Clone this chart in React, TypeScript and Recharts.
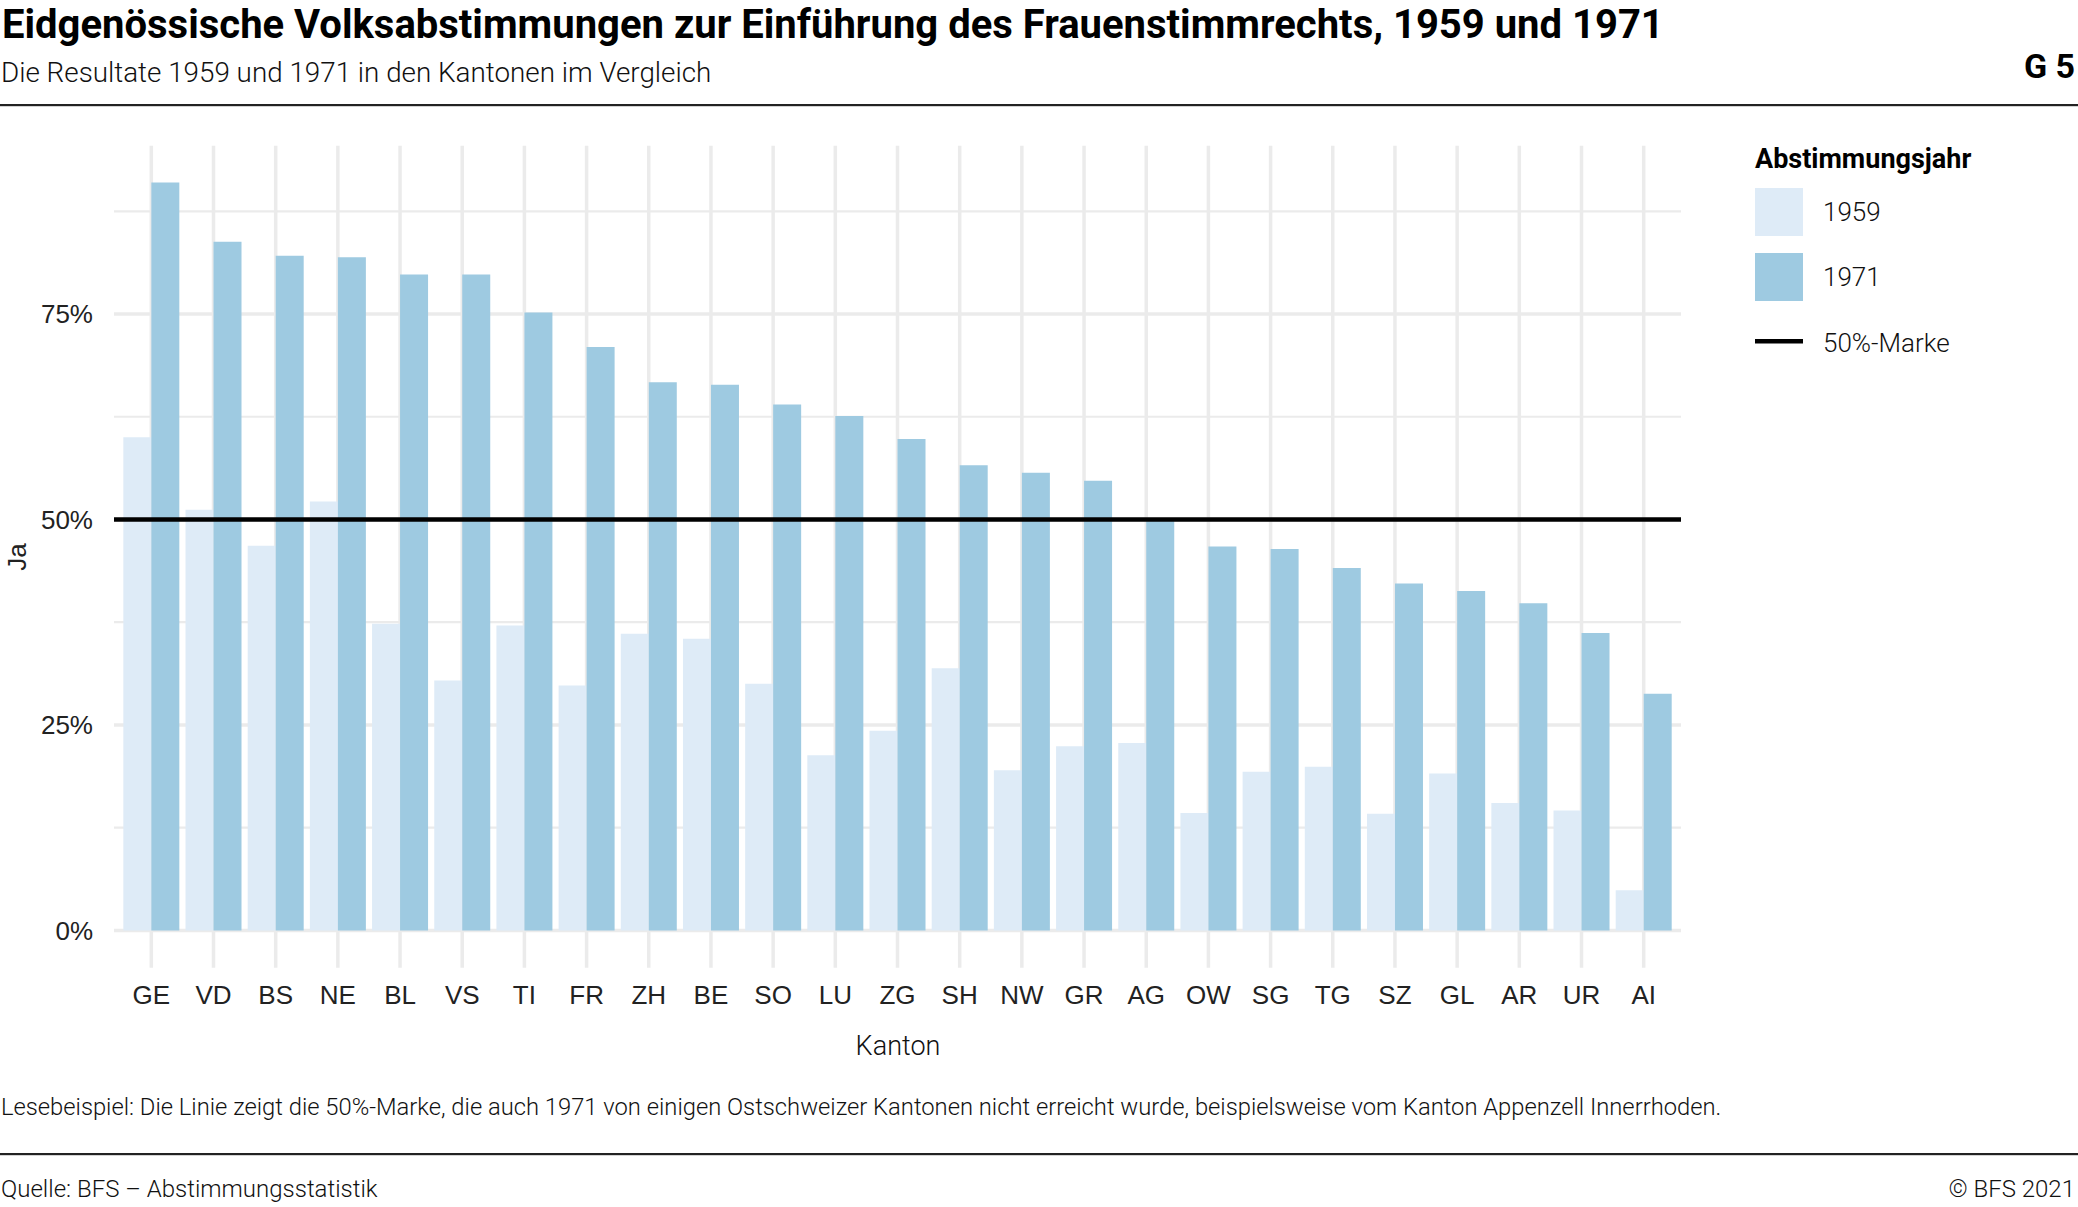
import React from "react";
import {
  BarChart,
  Bar,
  XAxis,
  YAxis,
  CartesianGrid,
  ReferenceLine,
} from "recharts";

const cantons = ["GE","VD","BS","NE","BL","VS","TI","FR","ZH","BE","SO","LU","ZG","SH","NW","GR","AG","OW","SG","TG","SZ","GL","AR","UR","AI"];
const yes1959 = [60.0,51.2,46.8,52.2,37.3,30.4,37.1,29.8,36.1,35.5,30.0,21.3,24.3,31.9,19.5,22.4,22.8,14.3,19.3,19.9,14.2,19.1,15.5,14.6,4.9];
const yes1971 = [91.0,83.8,82.1,81.9,79.8,79.8,75.2,71.0,66.7,66.4,64.0,62.6,59.8,56.6,55.7,54.7,50.1,46.7,46.4,44.1,42.2,41.3,39.8,36.2,28.8];
const majorTicks = [0, 25, 50, 75];
const minorTicks = [12.5, 37.5, 62.5, 87.5];
const threshold = 50;
const yDomain = [-4.55, 95.47];

const data = cantons.map((k, i) => ({ kanton: k, y1959: yes1959[i], y1971: yes1971[i] }));

const C1959 = "#DEEBF7";
const C1971 = "#9ECAE1";
const GRID = "#EBEBEB";
const TICKFONT = "'Liberation Sans', Arial, sans-serif";
const ROBOTO = "Roboto, 'Noto Sans', sans-serif";

export default function App() {
  return (
    <div style={{ position: "absolute", left: 0, top: 0, width: 2078, height: 1207, background: "#fff", overflow: "hidden" }}>
      <div style={{ position: "absolute", left: 0, top: 0 }}>
        <BarChart
          width={2078}
          height={1207}
          data={data}
          margin={{ top: 145.8, right: 397, bottom: 199.2, left: 0 }}
          barCategoryGap="5%"
          barGap={0}
        >
          <CartesianGrid yAxisId="minor" horizontal={true} vertical={false} syncWithTicks={true} stroke={GRID} strokeWidth={2.2} />
          <CartesianGrid yAxisId="major" horizontal={true} vertical={true} syncWithTicks={true} stroke={GRID} strokeWidth={3.5} />
          <XAxis
            dataKey="kanton"
            type="category"
            height={40}
            padding={{ left: 6.22, right: 6.22 }}
            tickLine={false}
            axisLine={false}
            tickSize={0}
            tickMargin={18}
            interval={0}
            tick={{ fill: "#222", fontSize: 26, fontFamily: TICKFONT }}
          />
          <YAxis
            yAxisId="major"
            type="number"
            domain={yDomain}
            ticks={majorTicks}
            allowDataOverflow={true}
            width={114}
            tickLine={false}
            axisLine={false}
            tickSize={0}
            tickMargin={21}
            tickFormatter={(v) => `${v}%`}
            tick={{ fill: "#222", fontSize: 26, fontFamily: TICKFONT }}
          />
          <YAxis
            yAxisId="minor"
            type="number"
            domain={yDomain}
            ticks={minorTicks}
            allowDataOverflow={true}
            hide={true}
          />
          <Bar yAxisId="major" dataKey="y1959" name="1959" fill={C1959} isAnimationActive={false} />
          <Bar yAxisId="major" dataKey="y1971" name="1971" fill={C1971} isAnimationActive={false} />
          <ReferenceLine yAxisId="major" y={threshold} stroke="#000" strokeWidth={4.5} />
        </BarChart>
      </div>
      <svg width={2078} height={1207} style={{ position: "absolute", left: 0, top: 0, pointerEvents: "none" }}>
        <text x={2} y={37.5} fontFamily={ROBOTO} fontWeight={700} fontSize={40} fill="#000">
          Eidgenössische Volksabstimmungen zur Einführung des Frauenstimmrechts, 1959 und 1971
        </text>
        <text x={1} y={82} fontFamily={ROBOTO} fontWeight={300} fontSize={27.8} fill="#111">
          Die Resultate 1959 und 1971 in den Kantonen im Vergleich
        </text>
        <text x={2024} y={78} fontFamily={ROBOTO} fontWeight={700} fontSize={34} fill="#000">G</text>
        <text x={2075} y={78} textAnchor="end" fontFamily={ROBOTO} fontWeight={700} fontSize={34} fill="#000">5</text>
        <rect x={0} y={104} width={2078} height={2.2} fill="#222" />
        <text
          x={17}
          y={557}
          transform="rotate(-90 17 557)"
          textAnchor="middle"
          dominantBaseline="central"
          fontFamily={TICKFONT}
          fontSize={26}
          fill="#222"
        >
          Ja
        </text>
        <text x={898} y={1055} textAnchor="middle" fontFamily={ROBOTO} fontWeight={300} fontSize={27} fill="#111">
          Kanton
        </text>
        <text x={1755} y={168} fontFamily={ROBOTO} fontWeight={700} fontSize={27} fill="#000">
          Abstimmungsjahr
        </text>
        <rect x={1755} y={188} width={48} height={48} fill={C1959} />
        <rect x={1755} y={253} width={48} height={48} fill={C1971} />
        <rect x={1755} y={339} width={48} height={4.5} fill="#000" />
        <text x={1823} y={221} fontFamily={ROBOTO} fontWeight={300} fontSize={26} fill="#111">1959</text>
        <text x={1823} y={286} fontFamily={ROBOTO} fontWeight={300} fontSize={26} fill="#111">1971</text>
        <text x={1823} y={352} fontFamily={ROBOTO} fontWeight={300} fontSize={26} fill="#111">50%-Marke</text>
        <text x={1} y={1115} fontFamily={ROBOTO} fontWeight={300} fontSize={23.75} fill="#111">
          Lesebeispiel: Die Linie zeigt die 50%-Marke, die auch 1971 von einigen Ostschweizer Kantonen nicht erreicht wurde, beispielsweise vom Kanton Appenzell Innerrhoden.
        </text>
        <rect x={0} y={1153} width={2078} height={2.2} fill="#222" />
        <text x={1} y={1197} fontFamily={ROBOTO} fontWeight={300} fontSize={24} fill="#111">
          Quelle: BFS – Abstimmungsstatistik
        </text>
        <text x={2075} y={1197} textAnchor="end" fontFamily={ROBOTO} fontWeight={300} fontSize={24} fill="#111">
          © BFS 2021
        </text>
      </svg>
    </div>
  );
}
